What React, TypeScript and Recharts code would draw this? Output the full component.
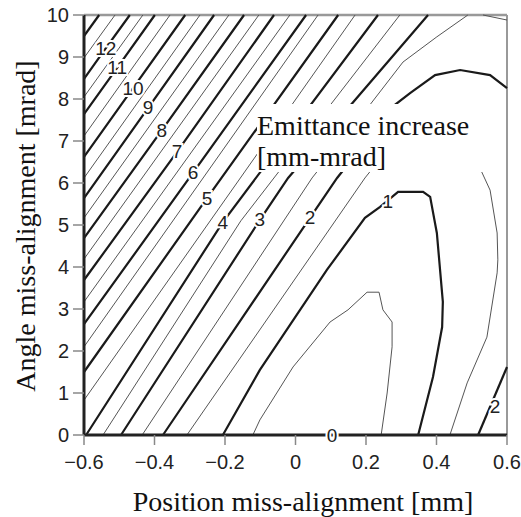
import React from 'react';
import { ComposedChart, Line, XAxis, YAxis, ReferenceLine, Label } from 'recharts';

type Pt = { x: number; y: number };
const pts = (a: number[][]): Pt[] => a.map(([x, y]) => ({ x, y }));

const xTicks = [-0.6, -0.4, -0.2, 0, 0.2, 0.4, 0.6];
const yTicks = [0, 1, 2, 3, 4, 5, 6, 7, 8, 9, 10];

// contour lines, [position mm, angle mrad]
const level13 = [[-0.6, 9.5], [-0.557, 10]];
const level12_5 = [[-0.6, 8.98], [-0.512, 10]];
const level12 = [[-0.6, 8.48], [-0.538, 9.21], [-0.47, 10]];
const level11_5 = [[-0.6, 8.05], [-0.433, 10]];
const level11 = [[-0.6, 7.64], [-0.506, 8.74], [-0.399, 10]];
const level10_5 = [[-0.6, 7.12], [-0.356, 10]];
const level10 = [[-0.6, 6.62], [-0.461, 8.26], [-0.313, 10]];
const level9_5 = [[-0.6, 6.12], [-0.271, 10]];
const level9 = [[-0.6, 5.64], [-0.418, 7.79], [-0.231, 10]];
const level8_5 = [[-0.6, 5.17], [-0.189, 10]];
const level8 = [[-0.6, 4.69], [-0.379, 7.26], [-0.146, 10]];
const level7_5 = [[-0.6, 4.19], [-0.104, 10]];
const level7 = [[-0.6, 3.69], [-0.336, 6.74], [-0.061, 10]];
const level6_5 = [[-0.6, 3.17], [-0.016, 10]];
const level6 = [[-0.6, 2.64], [-0.291, 6.24], [0.03, 10]];
const level5_5 = [[-0.6, 2.1], [0.064, 10]];
const level5 = [[-0.6, 1.5], [-0.251, 5.64], [0.121, 10]];
const level4_5 = [[-0.6, 0.83], [0.169, 10]];
const level4 = [[-0.594, 0], [-0.206, 5.07], [0.234, 10]];
const level3_5 = [[-0.546, 0], [-0.155, 5.1], [0.296, 10]];
const level3 = [[-0.495, 0], [-0.101, 5.12], [-0.021, 6.12], [0.376, 10]];
const level2_5 = [[-0.435, 0], [0.047, 6.12], [0.211, 7.86], [0.305, 8.88], [0.401, 9.48], [0.489, 10]];
const level2_5corner = [[0.532, 10], [0.6, 9.88]];
const level2 = [[-0.376, 0], [0.041, 5.17], [0.118, 6.12], [0.282, 7.86], [0.325, 8.14], [0.396, 8.57], [0.467, 8.69], [0.552, 8.57], [0.6, 8.26]];
const level2right = [[0.518, 0], [0.6, 1.62]];
const level1_5 = [[-0.308, 0], [0.197, 6.12], [0.3, 7.2], [0.42, 7.5], [0.5, 7.2], [0.523, 6.36], [0.552, 5.83], [0.572, 4.81], [0.574, 4.17], [0.572, 3.86], [0.543, 2.33], [0.487, 1.24], [0.438, 0]];
const level1 = [[-0.206, 0], [-0.101, 1.55], [0.089, 3.93], [0.197, 5.17], [0.24, 5.43], [0.291, 5.79], [0.362, 5.79], [0.382, 5.67], [0.401, 4.81], [0.418, 3.17], [0.416, 2.57], [0.39, 1.38], [0.348, 0]];
const level0_5 = [[-0.121, 0], [-0.101, 0.36], [-0.007, 1.62], [0.098, 2.69], [0.149, 2.98], [0.203, 3.4], [0.237, 3.4], [0.248, 2.98], [0.274, 2.69], [0.274, 2.1], [0.26, 1.0], [0.243, 0]];

const contours = [
  { level: 13, data: level13 }, { level: 12.5, data: level12_5 }, { level: 12, data: level12 },
  { level: 11.5, data: level11_5 }, { level: 11, data: level11 }, { level: 10.5, data: level10_5 },
  { level: 10, data: level10 }, { level: 9.5, data: level9_5 }, { level: 9, data: level9 },
  { level: 8.5, data: level8_5 }, { level: 8, data: level8 }, { level: 7.5, data: level7_5 },
  { level: 7, data: level7 }, { level: 6.5, data: level6_5 }, { level: 6, data: level6 },
  { level: 5.5, data: level5_5 }, { level: 5, data: level5 }, { level: 4.5, data: level4_5 },
  { level: 4, data: level4 }, { level: 3.5, data: level3_5 }, { level: 3, data: level3 },
  { level: 2.5, data: level2_5 }, { level: 2.5, data: level2_5corner }, { level: 2, data: level2 },
  { level: 2, data: level2right }, { level: 1.5, data: level1_5 }, { level: 1, data: level1 },
  { level: 0.5, data: level0_5 },
];

const labelText = ['12', '11', '10', '9', '8', '7', '6', '5', '4', '3', '2', '1', '2', '0'];
const labelX = [-0.538, -0.506, -0.461, -0.418, -0.379, -0.336, -0.291, -0.251, -0.206, -0.101, 0.041, 0.262, 0.566, 0.104];
const labelY = [9.21, 8.74, 8.26, 7.79, 7.26, 6.74, 6.24, 5.64, 5.07, 5.12, 5.17, 5.55, 0.67, 0];
const contourLabels = labelText.map((text, i) => ({ x: labelX[i], y: labelY[i], text }));

const sans = '"Liberation Sans", Arial, sans-serif';
const serif = '"Liberation Serif", "Times New Roman", serif';

const fmtX = (v: number) => (v === 0 ? '0' : v.toFixed(1).replace('-', '\u2212'));

// contour value written on top of its line, with a white halo as the gap
const LabelDot = (props: any) => {
  const { cx, cy, payload, index } = props;
  return (
    <text
      key={index}
      x={cx}
      y={cy}
      textAnchor="middle"
      dominantBaseline="central"
      fontFamily={sans}
      fontSize={19}
      fill="#222"
      stroke="#fff"
      strokeWidth={4}
      paintOrder="stroke"
    >
      {payload.text}
    </text>
  );
};

export default function App() {
  return (
    <div style={{ position: 'absolute', left: 0, top: 0, width: 521, height: 517, background: '#fff' }}>
      <ComposedChart width={521} height={517} margin={{ top: 15, right: 14, bottom: 42, left: 24 }}>
        <XAxis
          type="number"
          dataKey="x"
          domain={[-0.6, 0.6]}
          ticks={xTicks}
          tickFormatter={fmtX}
          height={40}
          axisLine={{ stroke: '#222', strokeWidth: 3 }}
          tickLine={{ stroke: '#888', strokeWidth: 1.5 }}
          tickSize={10}
          tickMargin={10}
          tick={{ fill: '#222', fontSize: 20, fontFamily: sans }}
        >
          <Label
            content={() => (
              <text x={303} y={501} textAnchor="middle" dominantBaseline="central" fontFamily={serif} fontSize={28} fill="#111">
                Position miss-alignment [mm]
              </text>
            )}
          />
        </XAxis>
        <YAxis
          type="number"
          dataKey="y"
          domain={[0, 10]}
          ticks={yTicks}
          width={60}
          axisLine={{ stroke: '#222', strokeWidth: 3 }}
          tickLine={{ stroke: '#888', strokeWidth: 1.5 }}
          tickSize={11}
          tickMargin={4}
          tick={{ fill: '#222', fontSize: 20, fontFamily: sans }}
        >
          <Label
            content={() => (
              <text transform="translate(25,226) rotate(-90)" textAnchor="middle" dominantBaseline="central" fontFamily={serif} fontSize={28} fill="#111">
                Angle miss-alignment [mrad]
              </text>
            )}
          />
        </YAxis>
        <ReferenceLine y={10} stroke="#999" strokeWidth={2.5} />
        <ReferenceLine x={0.6} stroke="#999" strokeWidth={2} />
        {contours.map((c, i) => {
          const major = Number.isInteger(c.level);
          return (
            <Line
              key={i}
              data={pts(c.data)}
              dataKey="y"
              type="linear"
              dot={false}
              activeDot={false}
              stroke={major ? '#1a1a1a' : '#555'}
              strokeWidth={major ? 2.2 : 1}
              isAnimationActive={false}
            />
          );
        })}
        <Line
          data={contourLabels}
          dataKey="y"
          stroke="none"
          dot={LabelDot}
          activeDot={false}
          isAnimationActive={false}
        />
      </ComposedChart>
      <div
        style={{
          position: 'absolute',
          left: 257,
          top: 104,
          width: 232,
          height: 68,
          paddingTop: 6,
          boxSizing: 'border-box',
          background: '#fff',
          fontFamily: serif,
          fontSize: 28,
          lineHeight: '31px',
          color: '#111',
          whiteSpace: 'nowrap',
        }}
      >
        Emittance increase
        <br />
        [mm-mrad]
      </div>
    </div>
  );
}
